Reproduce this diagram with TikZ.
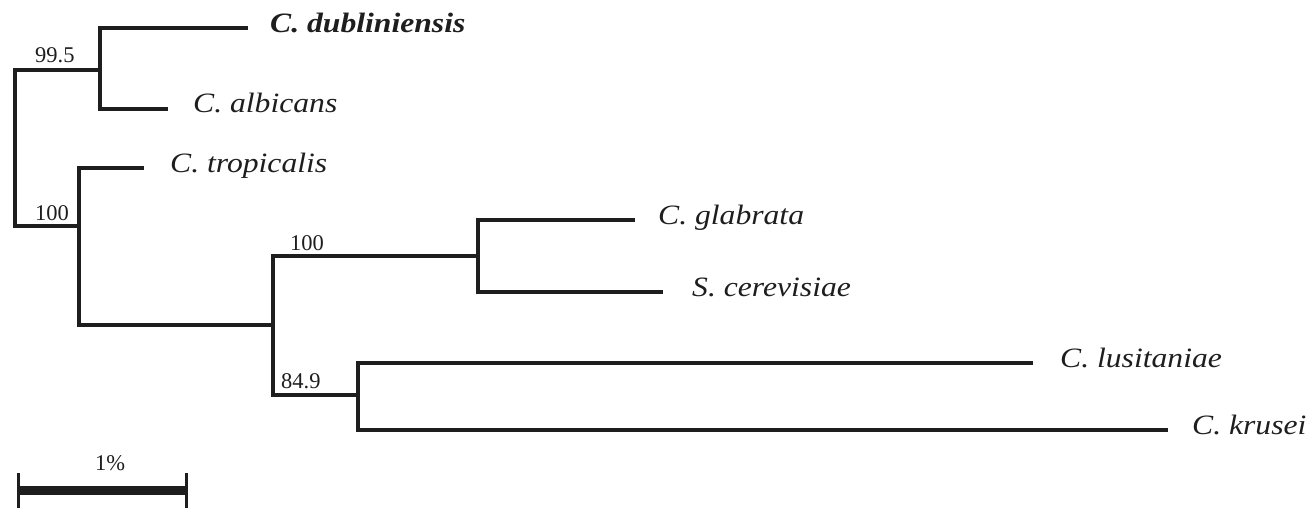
\documentclass[tikz,border=0pt]{standalone}
\usepackage{fontspec}
\setmainfont{Liberation Serif}
\newfontfamily\taxonfont[FakeStretch=1.13]{Liberation Serif}
\definecolor{ink}{HTML}{1E1E1E}
\tikzset{
  branch/.style={draw=ink, line width=3.2pt, line join=miter},
  taxon/.style={anchor=base west, inner sep=0pt, text=ink,
    font=\taxonfont\itshape\fontsize{28}{30}\selectfont},
  support/.style={anchor=base west, inner sep=0pt, text=ink,
    font=\fontsize{22.5}{25}\selectfont},
}
\begin{document}
\begin{tikzpicture}[x=1pt, y=-1pt]
\useasboundingbox (0,0) rectangle (1310,508);

% internal nodes (point where the parent stem joins)
\coordinate (root) at (15,150);
\coordinate (nA) at (100,70);
\coordinate (nB) at (79,226);
\coordinate (nC) at (273,325);
\coordinate (nD) at (478,256);
\coordinate (nE) at (358,395);

% tips (ends of terminal branches)
\coordinate (dub) at (248,28);
\coordinate (alb) at (168,109);
\coordinate (tro) at (144,168);
\coordinate (gla) at (635,220);
\coordinate (cer) at (663,292);
\coordinate (lus) at (1033,363);
\coordinate (kru) at (1168,430);

% tree
\draw[branch] (nA) -| (root) |- (nB);
\draw[branch] (dub) -| (nA) |- (alb);
\draw[branch] (tro) -| (nB) |- (nC);
\draw[branch] (nD) -| (nC) |- (nE);
\draw[branch] (gla) -| (nD) |- (cer);
\draw[branch] (lus) -| (nE) |- (kru);

% taxon names (baseline a few units below the branch)
\node[taxon, font=\taxonfont\bfseries\itshape\fontsize{28}{30}\selectfont] (tdub) at ([xshift=22pt, yshift=-5pt]dub) {C. dubliniensis};
\node[taxon] (talb) at ([xshift=25pt, yshift=-4pt]alb) {C. albicans};
\node[taxon] (ttro) at ([xshift=26pt, yshift=-5pt]tro) {C. tropicalis};
\node[taxon] (tgla) at ([xshift=23pt, yshift=-4pt]gla) {C. glabrata};
\node[taxon] (tcer) at ([xshift=29pt, yshift=-4pt]cer) {S. cerevisiae};
\node[taxon] (tlus) at ([xshift=27pt, yshift=-4pt]lus) {C. lusitaniae};
\node[taxon] (tkru) at ([xshift=24pt, yshift=-4pt]kru) {C. krusei};

% support values
\node[support] (sA) at (35,63) {99.5};
\node[support] (sB) at (35,220) {100};
\node[support] (sD) at (290,251) {100};
\node[support] (sE) at (281,388) {84.9};

% scale bar
\coordinate (sbL) at (18,490);
\coordinate (sbR) at (186,490);
\draw[draw=ink, line width=9pt] (sbL) -- (sbR);
\draw[draw=ink, line width=3pt] ([yshift=17pt]sbL) -- ([yshift=-18pt]sbL);
\draw[draw=ink, line width=3pt] ([yshift=17pt]sbR) -- ([yshift=-18pt]sbR);
\node[support, anchor=base] (sbT) at (110,470) {1\%};
\end{tikzpicture}
\end{document}
